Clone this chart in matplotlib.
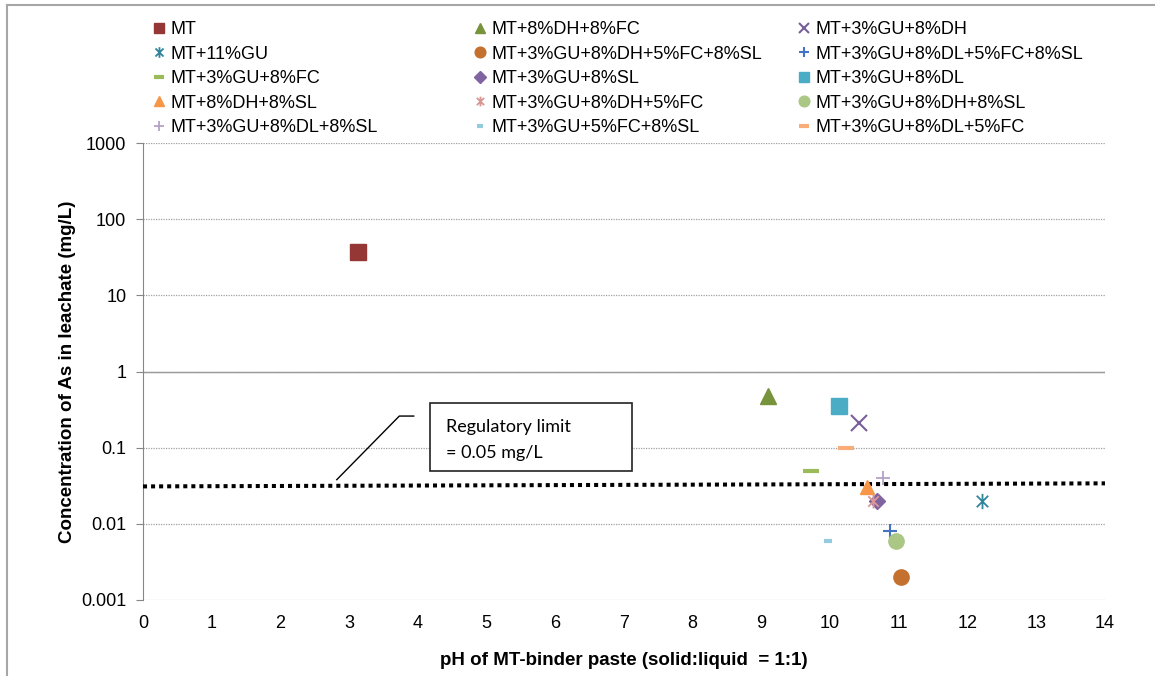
import matplotlib
matplotlib.use('Agg')
import matplotlib.pyplot as plt
import numpy as np
from matplotlib.path import Path
from matplotlib.patches import Rectangle
from matplotlib.lines import Line2D
from matplotlib.ticker import NullLocator

plt.rcParams['font.family'] = ['Liberation Sans', 'DejaVu Sans']

# data
series_names = ['MT', 'MT+8%DH+8%FC', 'MT+3%GU+8%DH',
                'MT+11%GU', 'MT+3%GU+8%DH+5%FC+8%SL', 'MT+3%GU+8%DL+5%FC+8%SL',
                'MT+3%GU+8%FC', 'MT+3%GU+8%SL', 'MT+3%GU+8%DL',
                'MT+8%DH+8%SL', 'MT+3%GU+8%DH+5%FC', 'MT+3%GU+8%DH+8%SL',
                'MT+3%GU+8%DL+8%SL', 'MT+3%GU+5%FC+8%SL', 'MT+3%GU+8%DL+5%FC']
ph_values = [3.13, 9.1, 10.42, 12.21, 11.03, 10.87, 9.72, 10.68, 10.13,
             10.54, 10.63, 10.96, 10.77, 9.97, 10.23]
as_conc = [37, 0.47, 0.21, 0.02, 0.002, 0.008, 0.05, 0.02, 0.35,
           0.03, 0.02, 0.006, 0.04, 0.006, 0.1]

limit_x = [0, 14]
limit_y = [0.031, 0.034]

xticks = list(range(0, 15))
yticks = [0.001, 0.01, 0.1, 1, 10, 100, 1000]
ytick_labels = ['0.001', '0.01', '0.1', '1', '10', '100', '1000']

# excel-like star: X with a vertical bar
star = Path([(0, -1), (0, 1), (-0.75, -0.75), (0.75, 0.75), (-0.75, 0.75), (0.75, -0.75)],
            [Path.MOVETO, Path.LINETO, Path.MOVETO, Path.LINETO, Path.MOVETO, Path.LINETO])

markers = ['s', '^', 'x', star, 'o', '+', '_', 'D', 's', '^', star, 'o', '+', '_', '_']
colors = ['#953735', '#77933C', '#77609A', '#31859C', '#C4702F', '#4472C4',
          '#9BBB59', '#8064A2', '#4BACC6', '#F79646', '#D99694', '#ABC785',
          '#B3A2C7', '#93CDDD', '#F9AE79']
sizes = [11, 11, 11, 11, 11, 10, 11, 8.5, 11, 10.5, 10, 11, 10, 6, 11]
edgew = [1, 1, 1.5, 1.3, 1, 1.5, 3, 1, 1, 1, 1.3, 1, 1.3, 3, 3]

fig = plt.figure(figsize=(11.55, 6.76), dpi=100)
ax = fig.add_axes([143/1155, 1 - 600/676, 962/1155, 457/676])
ax.set_yscale('log')

handles = []
for i in range(len(series_names)):
    l, = ax.plot([ph_values[i]], [as_conc[i]], linestyle='none', marker=markers[i],
                 markersize=sizes[i], color=colors[i], markerfacecolor=colors[i],
                 markeredgecolor=colors[i], markeredgewidth=edgew[i], zorder=5,
                 label=series_names[i])
    handles.append(l)

ax.plot(limit_x, limit_y, color='black', lw=2.9, linestyle=(0, (1, 1)),
        dash_capstyle='butt', zorder=4)

# annotation box + leader line
ax.plot([2.82, 3.73, 3.94], [0.038, 0.26, 0.26], color='black', lw=1, zorder=4)
ax.add_patch(Rectangle((4.18, 0.050), 2.94, 0.34, facecolor='white',
                       edgecolor='#222222', lw=1.2, zorder=4))
ax.text(4.41, 0.161, 'Regulatory limit', fontsize=13, family='Lato',
        va='baseline', ha='left', zorder=6)
ax.text(4.41, 0.0735, '= 0.05 mg/L', fontsize=13, family='Lato',
        va='baseline', ha='left', zorder=6)

ax.set_xlim(0, 14)
ax.set_ylim(0.001, 1000)
ax.set_xticks(xticks)
ax.set_yticks(yticks, ytick_labels)
ax.yaxis.set_minor_locator(NullLocator())
ax.tick_params(axis='x', length=0, pad=11, labelsize=13)
ax.tick_params(axis='y', length=5, pad=7, color='#868686', labelsize=13)

ax.yaxis.grid(True, color='#A0A0A0', linestyle=(0, (1, 1)), lw=0.9)
ax.axhline(1, color='#9A9A9A', lw=1)
for s in ['top', 'right', 'bottom']:
    ax.spines[s].set_visible(False)
ax.spines['left'].set_color('#868686')

ax.set_xlabel('pH of MT-binder paste (solid:liquid  = 1:1)', fontsize=13.5,
              fontweight='bold', labelpad=14)
ax.set_ylabel('Concentration of As in leachate (mg/L)', fontsize=13.5,
              fontweight='bold')
ax.yaxis.set_label_coords(-0.07, 0.5)

# legend: 3 columns, filled row by row
col_left = [152, 473, 797]
for c in range(3):
    idx = [3*r + c for r in range(5)]
    fig.legend([handles[k] for k in idx], [series_names[k] for k in idx],
               loc='upper left', bbox_to_anchor=(col_left[c]/1155, 1 - 21/676),
               frameon=False, borderpad=0, borderaxespad=0, handlelength=0.8,
               handletextpad=0.25, labelspacing=0.42, fontsize=13, markerscale=0.7)

# outer frame (left and top visible)
fig.add_artist(Line2D([7/1155, 7/1155], [0, 1 - 5/676], transform=fig.transFigure,
                      color='#A6A6A6', lw=1.5))
fig.add_artist(Line2D([7/1155, 1], [1 - 5/676, 1 - 5/676], transform=fig.transFigure,
                      color='#A6A6A6', lw=1.5))

fig.savefig('out.png', dpi=100)
